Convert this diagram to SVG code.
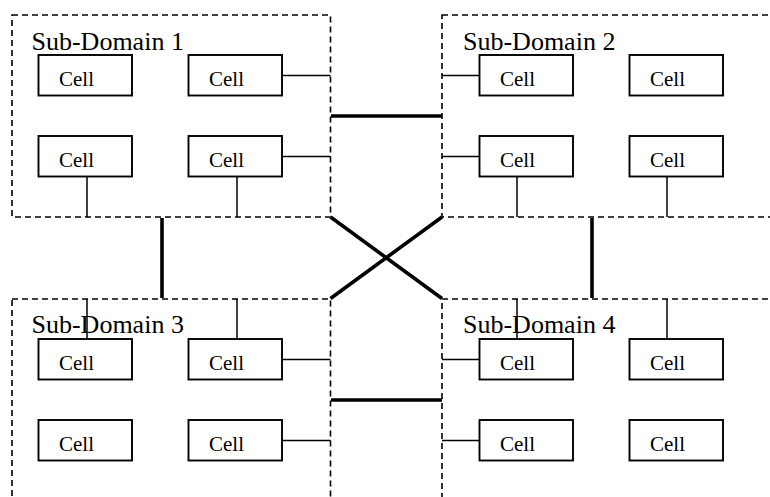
<svg xmlns="http://www.w3.org/2000/svg" width="770" height="497" viewBox="0 0 770 497">
  <style>
    .domain { fill: none; stroke: #000; stroke-width: 1.6; stroke-dasharray: 6 4; }
    .cell rect { fill: #fff; stroke: #000; stroke-width: 1.9; }
    .cell text { font-family: "Liberation Serif", "Times New Roman", serif; font-size: 21px; fill: #000; }
    .label { font-family: "Liberation Serif", "Times New Roman", serif; font-size: 26px; fill: #000; }
    .thin { stroke: #000; stroke-width: 1.5; fill: none; }
    .thick { stroke: #000; stroke-width: 3.6; fill: none; }
  </style>
  <rect width="770" height="497" fill="#fff"/>

  <!-- sub-domain frames -->
  <g id="subdomain-1">
    <rect class="domain" x="12" y="15" width="318.5" height="202"/>
    <text class="label" x="31.5" y="50">Sub-Domain 1</text>
  </g>
  <g id="subdomain-2">
    <rect class="domain" x="442" y="15" width="360" height="202"/>
    <text class="label" x="463" y="50">Sub-Domain 2</text>
  </g>
  <g id="subdomain-3">
    <rect class="domain" x="12" y="299" width="318.5" height="260"/>
  </g>
  <g id="subdomain-4">
    <rect class="domain" x="442" y="299" width="360" height="260"/>
  </g>

  <!-- links between cells and domains -->
  <g id="connectors">
    <!-- domain 1 -->
    <line class="thin" x1="273" y1="75.5" x2="330.5" y2="75.5"/>
    <line class="thin" x1="273" y1="156.5" x2="330.5" y2="156.5"/>
    <line class="thin" x1="87" y1="177" x2="87" y2="217"/>
    <line class="thin" x1="237" y1="177" x2="237" y2="217"/>
    <!-- domain 2 -->
    <line class="thin" x1="442" y1="75.5" x2="479.5" y2="75.5"/>
    <line class="thin" x1="442" y1="156.5" x2="479.5" y2="156.5"/>
    <line class="thin" x1="517" y1="177" x2="517" y2="217"/>
    <line class="thin" x1="667" y1="177" x2="667" y2="217"/>
    <!-- domain 3 -->
    <line class="thin" x1="87" y1="299" x2="87" y2="339"/>
    <line class="thin" x1="237" y1="299" x2="237" y2="339"/>
    <line class="thin" x1="273" y1="359.5" x2="330.5" y2="359.5"/>
    <line class="thin" x1="273" y1="440.5" x2="330.5" y2="440.5"/>
    <!-- domain 4 -->
    <line class="thin" x1="517" y1="299" x2="517" y2="339"/>
    <line class="thin" x1="667" y1="299" x2="667" y2="339"/>
    <line class="thin" x1="442" y1="359.5" x2="479.5" y2="359.5"/>
    <line class="thin" x1="442" y1="440.5" x2="479.5" y2="440.5"/>
    <!-- inter-domain links -->
    <line class="thick" x1="331" y1="116" x2="442" y2="116"/>
    <line class="thick" x1="331" y1="400" x2="442" y2="400"/>
    <line class="thick" x1="162" y1="218" x2="162" y2="298"/>
    <line class="thick" x1="592" y1="218" x2="592" y2="298"/>
    <line class="thick" x1="330.5" y1="217" x2="442" y2="298.5"/>
    <line class="thick" x1="442" y1="217" x2="330.5" y2="298.5"/>
  </g>

  <!-- cells -->
  <g id="cell-1-1" class="cell"><rect x="38.5" y="55" width="93.5" height="40.5"/><text x="59" y="86">Cell</text></g>
  <g id="cell-1-2" class="cell"><rect x="188.5" y="55" width="93.5" height="40.5"/><text x="209" y="86">Cell</text></g>
  <g id="cell-1-3" class="cell"><rect x="38.5" y="136" width="93.5" height="40.5"/><text x="59" y="167">Cell</text></g>
  <g id="cell-1-4" class="cell"><rect x="188.5" y="136" width="93.5" height="40.5"/><text x="209" y="167">Cell</text></g>

  <g id="cell-2-1" class="cell"><rect x="479.5" y="55" width="93.5" height="40.5"/><text x="500" y="86">Cell</text></g>
  <g id="cell-2-2" class="cell"><rect x="629.5" y="55" width="93.5" height="40.5"/><text x="650" y="86">Cell</text></g>
  <g id="cell-2-3" class="cell"><rect x="479.5" y="136" width="93.5" height="40.5"/><text x="500" y="167">Cell</text></g>
  <g id="cell-2-4" class="cell"><rect x="629.5" y="136" width="93.5" height="40.5"/><text x="650" y="167">Cell</text></g>

  <g id="cell-3-1" class="cell"><rect x="38.5" y="339" width="93.5" height="40.5"/><text x="59" y="370">Cell</text></g>
  <g id="cell-3-2" class="cell"><rect x="188.5" y="339" width="93.5" height="40.5"/><text x="209" y="370">Cell</text></g>
  <g id="cell-3-3" class="cell"><rect x="38.5" y="420" width="93.5" height="40.5"/><text x="59" y="451">Cell</text></g>
  <g id="cell-3-4" class="cell"><rect x="188.5" y="420" width="93.5" height="40.5"/><text x="209" y="451">Cell</text></g>

  <g id="cell-4-1" class="cell"><rect x="479.5" y="339" width="93.5" height="40.5"/><text x="500" y="370">Cell</text></g>
  <g id="cell-4-2" class="cell"><rect x="629.5" y="339" width="93.5" height="40.5"/><text x="650" y="370">Cell</text></g>
  <g id="cell-4-3" class="cell"><rect x="479.5" y="420" width="93.5" height="40.5"/><text x="500" y="451">Cell</text></g>
  <g id="cell-4-4" class="cell"><rect x="629.5" y="420" width="93.5" height="40.5"/><text x="650" y="451">Cell</text></g>

  <!-- lower domain titles sit on top of the incoming links -->
  <text class="label" x="31.5" y="333">Sub-Domain 3</text>
  <text class="label" x="463" y="333">Sub-Domain 4</text>
</svg>
